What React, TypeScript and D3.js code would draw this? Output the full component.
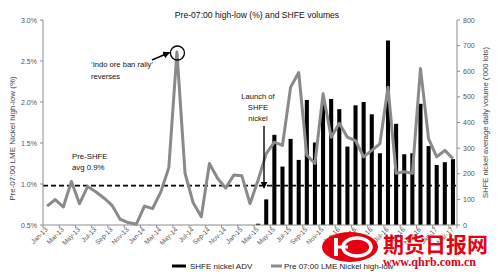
import React from 'react';
import * as d3 from 'd3';

const months = [
  'Jan-13','Feb-13','Mar-13','Apr-13','May-13','Jun-13','Jul-13','Aug-13','Sep-13','Oct-13','Nov-13','Dec-13',
  'Jan-14','Feb-14','Mar-14','Apr-14','May-14','Jun-14','Jul-14','Aug-14','Sep-14','Oct-14','Nov-14','Dec-14',
  'Jan-15','Feb-15','Mar-15','Apr-15','May-15','Jun-15','Jul-15','Aug-15','Sep-15','Oct-15','Nov-15','Dec-15',
  'Jan-16','Feb-16','Mar-16','Apr-16','May-16','Jun-16','Jul-16','Aug-16','Sep-16','Oct-16','Nov-16','Dec-16',
  'Jan-17','Feb-17','Mar-17',
];

// Pre-07:00 LME nickel high-low (%), left axis
const highLow = [
  0.73, 0.81, 0.72, 1.03, 0.76, 0.97, 0.905, 0.83, 0.74, 0.57, 0.53, 0.51,
  0.73, 0.70, 0.90, 1.20, 2.61, 1.13, 0.77, 0.60, 1.25, 1.07, 0.95, 1.11,
  1.10, 0.76, 1.05, 1.37, 1.51, 1.47, 2.18, 2.36, 1.35, 1.25, 2.10, 1.57,
  1.74, 1.57, 1.53, 1.33, 1.41, 1.49, 2.18, 1.13, 1.15, 1.13, 2.41, 1.55,
  1.33, 1.41, 1.31,
];

// SHFE nickel average daily volume ('000 lots), right axis
const shfeADV: (number | null)[] = [
  null, null, null, null, null, null, null, null, null, null, null, null,
  null, null, null, null, null, null, null, null, null, null, null, null,
  null, null, 5, 100, 352, 228, 336, 254, 488, 322, 470, 492,
  452, 306, 467, 480, 432, 280, 720, 395, 276, 280, 473, 308,
  234, 245, 257,
];

const leftTicks = [0.5, 1.0, 1.5, 2.0, 2.5, 3.0];
const rightTicks = [0, 100, 200, 300, 400, 500, 600, 700, 800];
const xTickLabels = months.filter((_, i) => i % 2 === 0);
const preShfeAvgLine = 0.98;

const FONT = '"Liberation Sans", Arial, sans-serif';

export default function App() {
  const W = 500, H = 280;
  const L = 43, R = 457, T = 20, B = 225;
  const x = d3.scaleBand<string>().domain(months).range([L, R]).padding(0);
  const bw = x.bandwidth();
  const cx = (m: string) => (x(m) as number) + bw / 2;
  const yL = d3.scaleLinear().domain([0.5, 3.0]).range([B, T]);
  const yR = d3.scaleLinear().domain([0, 800]).range([B, T]);

  const linePath = d3.line<number>()
    .x((_, i) => cx(months[i]))
    .y((d) => yL(d))(highLow) || '';

  const axisColor = '#8c8c8c';
  const tickText = '#555';
  const xTickPositions = months.map((_, i) => i).filter((i) => i % 2 === 0).map((i) => L + i * bw);
  xTickPositions.push(R);

  return (
    <svg width={W} height={H} style={{ position: 'absolute', left: 0, top: 0, background: '#fff' }} fontFamily={FONT}>
      <defs>
        <marker id="arr" viewBox="0 0 10 10" refX="9" refY="5" markerWidth="5" markerHeight="5" orient="auto-start-reverse">
          <path d="M0,0 L10,5 L0,10 z" fill="#000" />
        </marker>
      </defs>
      <rect width={W} height={H} fill="#fff" />
      {/* Title */}
      <text x={257} y={18} textAnchor="middle" fontSize={8.6} fill="#111">Pre-07:00 high-low (%) and SHFE volumes</text>

      {/* Bars */}
      {shfeADV.map((v, i) => v == null ? null : (
        <rect key={i} x={cx(months[i]) - bw * 0.25} width={bw * 0.5} y={yR(v)} height={yR(0) - yR(v)} fill="#000" />
      ))}

      {/* Dashed pre-SHFE average */}
      <line x1={L} x2={R} y1={yL(preShfeAvgLine)} y2={yL(preShfeAvgLine)} stroke="#000" strokeWidth={1.8} strokeDasharray="5,3" />

      {/* Line */}
      <path d={linePath} fill="none" stroke="#8a8a8a" strokeWidth={3} strokeLinejoin="round" />

      {/* Axes */}
      <line x1={L} x2={L} y1={T} y2={B} stroke={axisColor} />
      <line x1={R} x2={R} y1={T} y2={B} stroke={axisColor} />
      <line x1={L} x2={R} y1={B} y2={B} stroke={axisColor} />
      {leftTicks.map((t) => (
        <g key={'l' + t}>
          <line x1={L - 3} x2={L} y1={yL(t)} y2={yL(t)} stroke={axisColor} />
          <text x={37} y={yL(t) + 2.5} textAnchor="end" fontSize={7} fill={tickText}>{t.toFixed(1)}%</text>
        </g>
      ))}
      {rightTicks.map((t) => (
        <g key={'r' + t}>
          <line x1={R} x2={R + 3} y1={yR(t)} y2={yR(t)} stroke={axisColor} />
          <text x={463} y={yR(t) + 2.5} textAnchor="start" fontSize={7} fill={tickText}>{t}</text>
        </g>
      ))}
      {xTickPositions.map((p, i) => (
        <line key={'xt' + i} x1={p} x2={p} y1={B} y2={B + 3} stroke={axisColor} />
      ))}
      {xTickLabels.map((m) => (
        <text key={m} transform={`translate(${cx(m) + 1},${B + 5}) rotate(-45)`} textAnchor="end" fontSize={6.6} fill={tickText}>{m}</text>
      ))}

      {/* Axis titles */}
      <text transform={`translate(15,${(T + B) / 2 + 16}) rotate(-90)`} textAnchor="middle" fontSize={8} fill="#444">Pre-07:00 LME Nickel high-low (%)</text>
      <text transform={`translate(488,${(T + B) / 2}) rotate(-90)`} textAnchor="middle" fontSize={7.6} fill="#444">SHFE nickel average daily volume ('000 lots)</text>

      {/* Annotations */}
      <text x={91} y={67} fontSize={7.6} fill="#111">‘Indo ore ban rally’</text>
      <text x={91} y={79} fontSize={7.6} fill="#111">reverses</text>
      <line x1={152} y1={60} x2={169.5} y2={52.5} stroke="#000" strokeWidth={1.4} markerEnd="url(#arr)" />
      <circle cx={cx('May-14') + 0.5} cy={yL(2.61) + 1} r={7} fill="none" stroke="#000" strokeWidth={1.3} />

      <text x={258} y={99} textAnchor="middle" fontSize={7.6} fill="#111">Launch of</text>
      <text x={258} y={110} textAnchor="middle" fontSize={7.6} fill="#111">SHFE</text>
      <text x={258} y={121} textAnchor="middle" fontSize={7.6} fill="#111">nickel</text>
      <line x1={264} y1={126} x2={264} y2={188} stroke="#000" strokeWidth={1.4} markerEnd="url(#arr)" />

      <text x={72} y={159} fontSize={7.8} fill="#111">Pre-SHFE</text>
      <text x={72} y={170} fontSize={7.8} fill="#111">avg 0.9%</text>

      {/* Legend */}
      <line x1={172} x2={186} y1={266} y2={266} stroke="#000" strokeWidth={3} />
      <text x={190} y={269} fontSize={8} fill="#222">SHFE nickel ADV</text>
      <line x1={271} x2={282} y1={266} y2={266} stroke="#8a8a8a" strokeWidth={3} />
      <text x={284} y={269} fontSize={8} fill="#222">Pre 07:00 LME Nickel high-low</text>

      {/* Watermark */}
      <g>
        <ellipse cx={350} cy={247} rx={28} ry={15} fill="#e60012" />
        <ellipse cx={357} cy={247} rx={14} ry={9} fill="none" stroke="#fff" strokeWidth={3.5} />
        <rect x={334} y={238} width={4} height={18} fill="#fff" />
        <rect x={334} y={245.5} width={14} height={3} fill="#fff" />
        <text x={383} y={252} fontSize={21} fontWeight="bold" fill="#e60012" fontFamily='"Noto Sans CJK SC", sans-serif'>期货日报网</text>
        <text x={383} y={266} fontSize={12} fontWeight="bold" fill="#e60012" fontFamily='"Liberation Serif", serif'>www.qhrb.com.cn</text>
      </g>
    </svg>
  );
}
